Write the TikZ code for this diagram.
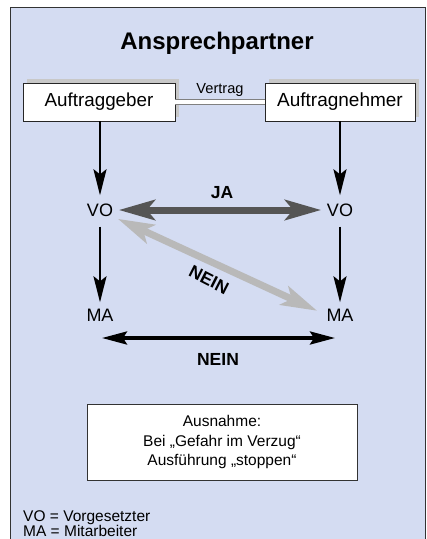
\documentclass[tikz,border=0pt]{standalone}
\usepackage{fontspec}
\setmainfont{Liberation Sans}
\usetikzlibrary{arrows.meta,shadows}
\definecolor{bg}{RGB}{212,220,242}
\definecolor{darkarrow}{RGB}{85,85,85}
\definecolor{lightarrow}{RGB}{185,185,185}
\definecolor{shadowgray}{RGB}{200,200,200}
\tikzset{
  partybox/.style={draw=black!85, line width=0.8pt, fill=white, minimum height=38pt,
    inner sep=0pt, font=\fontsize{18.8}{22}\selectfont,
    general shadow={fill=shadowgray, shadow xshift=4pt, shadow yshift=4pt}},
  role/.style={inner sep=0pt, text height=13pt, text depth=0pt, font=\fontsize{18}{20}\selectfont},
  thinarrow/.style={line width=2.5pt, -{Stealth[length=26pt,width=13pt,inset=5pt]}},
  bigarrow/.style={line width=7pt, {Stealth[length=36pt,width=20pt,inset=8pt]}-{Stealth[length=36pt,width=20pt,inset=8pt]}},
  lbl/.style={font=\fontsize{17.5}{20}\selectfont\bfseries, inner sep=0pt}
}
\begin{document}
\begin{tikzpicture}[x=1pt,y=-1pt]
\useasboundingbox (0,0) rectangle (427,539);
\clip (0,0) rectangle (427,539);
\draw[fill=bg, draw=black!80, line width=1pt] (10,7) rectangle (425,560);

\node[font=\fontsize{24}{28}\selectfont\bfseries] (title) at (217,43) {Ansprechpartner};

\node[partybox, minimum width=152pt] (ag) at (99,102) {Auftraggeber};
\node[partybox, minimum width=150pt, font=\fontsize{19}{22}\selectfont] (an) at (340,102) {Auftragnehmer};
\draw[draw=gray, line width=0.8pt, double=white, double distance=3.5pt] (ag.east) -- (an.west);
\node[font=\fontsize{14.6}{17}\selectfont, inner sep=0pt] (vertrag) at (220,90) {Vertrag};

\node[role] (vo1) at (100,210) {VO};
\node[role] (vo2) at (340,210) {VO};
\node[role] (ma1) at (100,315) {MA};
\node[role] (ma2) at (340,315) {MA};

\draw[thinarrow, shorten >=8pt] (ag.south -| vo1) -- (vo1.north);
\draw[thinarrow, shorten >=8pt] (an.south -| vo2) -- (vo2.north);
\draw[thinarrow, shorten <=10pt, shorten >=6pt] (vo1.south) -- (ma1.north);
\draw[thinarrow, shorten <=10pt, shorten >=6pt] (vo2.south) -- (ma2.north);

\draw[bigarrow, draw=darkarrow, shorten <=5.5pt, shorten >=5.5pt] (vo1.east) -- (vo2.west);
\node[lbl] (ja) at (222,193) {JA};

\draw[bigarrow, draw=lightarrow, shorten <=5pt, shorten >=10pt] (vo1.south east) -- (ma2.west);
\node[lbl, rotate=-27] (nein1) at (209,280) {NEIN};

\coordinate (nl) at (102,338);
\coordinate (nr) at (335,338);
\draw[line width=3.5pt, {Stealth[length=25pt,width=13pt,inset=4pt]}-{Stealth[length=25pt,width=13pt,inset=4pt]}] (nl) -- (nr);
\node[lbl] (nein2) at (218,359) {NEIN};

\node[draw=black!80, line width=0.8pt, fill=white, minimum width=270pt, minimum height=76pt,
  align=center, font=\fontsize{15.5}{19.5}\selectfont] (ausnahme) at (222,442)
  {Ausnahme:\\Bei „Gefahr im Verzug“\\Ausführung „stoppen“};

\node[anchor=west, align=left, inner sep=0pt, font=\fontsize{15.5}{15}\selectfont] (legend) at (23,524)
  {VO = Vorgesetzter\\MA = Mitarbeiter};
\end{tikzpicture}
\end{document}
